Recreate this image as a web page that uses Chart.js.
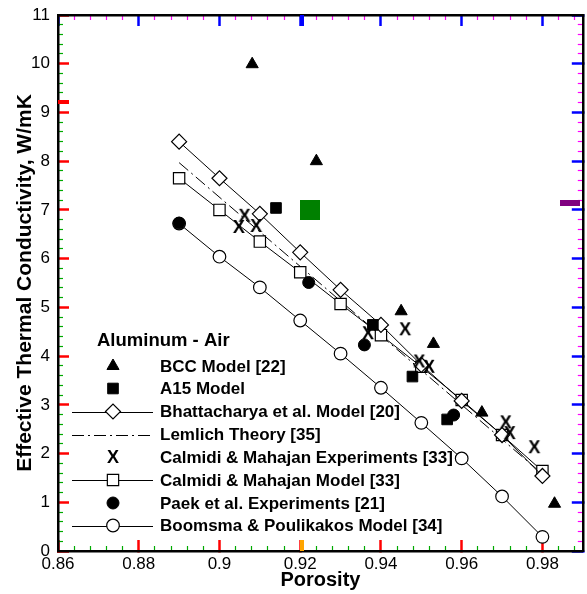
<!DOCTYPE html>
<html><head><meta charset="utf-8">
<script src="https://cdn.jsdelivr.net/npm/chart.js@4.4.1/dist/chart.umd.min.js"></script>
<style>html,body{margin:0;padding:0;background:#fff;overflow:hidden;width:587px;height:594px}canvas{display:block}</style>
</head><body>
<canvas id="c" width="592" height="594"></canvas>
<script>
const FONT = '"Liberation Sans", Arial, Helvetica, sans-serif';

// ---- tick labels ----
const xTickValues = [0.86, 0.88, 0.9, 0.92, 0.94, 0.96, 0.98];
const yTickValues = [0, 1, 2, 3, 4, 5, 6, 7, 8, 9, 10, 11];

// ---- model series (shared porosity grid) ----
const porosityGrid   = [0.89, 0.90, 0.91, 0.92, 0.93, 0.94, 0.95, 0.96, 0.97, 0.98];
const bhattacharyaK  = [8.40, 7.65, 6.92, 6.13, 5.36, 4.64, 3.82, 3.08, 2.38, 1.54];
const calmidiModelK  = [7.65, 7.00, 6.35, 5.72, 5.07, 4.43, 3.78, 3.10, 2.38, 1.64];
const boomsmaK       = [6.72, 6.04, 5.41, 4.73, 4.05, 3.35, 2.63, 1.90, 1.12, 0.29];

// ---- Lemlich theory (straight line) ----
const lemlichX = [0.89, 0.98];
const lemlichK = [7.97, 1.58];

// ---- point series ----
const bccX = [0.9081, 0.924, 0.945, 0.953, 0.965, 0.983];
const bccK = [9.99, 8.00, 4.92, 4.25, 2.84, 0.97];
const a15X = [0.914, 0.938, 0.9478, 0.9564];
const a15K = [7.04, 4.64, 3.58, 2.70];
const calExpX = [0.9048, 0.9062, 0.9091, 0.9368, 0.946, 0.9495, 0.9519, 0.9709, 0.9719, 0.978];
const calExpK = [6.65, 6.88, 6.67, 4.47, 4.55, 3.89, 3.78, 2.64, 2.42, 2.13];
const paekX = [0.89, 0.9221, 0.9359, 0.958];
const paekK = [6.73, 5.51, 4.23, 2.79];

// ---- legend ----
const legendTitle = 'Aluminum - Air';
const legendLabels = [
  'BCC Model [22]',
  'A15 Model',
  'Bhattacharya et al. Model [20]',
  'Lemlich Theory [35]',
  'Calmidi & Mahajan Experiments [33]',
  'Calmidi & Mahajan Model [33]',
  'Paek et al. Experiments [21]',
  'Boomsma & Poulikakos Model [34]'
];

const xMinorTicks = [];
for (let i = 1; i <= 32; i++) if (i % 5 !== 0) xMinorTicks.push(+(0.86 + i * 0.004).toFixed(3));
const yMinorTicks = [];
for (let i = 1; i < 55; i++) if (i % 5 !== 0) yMinorTicks.push(+(i * 0.2).toFixed(1));

const pts = (xs, ys) => xs.map((x, i) => ({x: x, y: ys[i]}));

function makeX() {
  const c = document.createElement('canvas');
  c.width = 14; c.height = 16;
  const g = c.getContext('2d');
  g.fillStyle = '#000';
  g.font = 'bold 18px ' + FONT;
  g.textAlign = 'center';
  g.textBaseline = 'alphabetic';
  g.fillText('X', 7, 8 + 0.716 * 18 / 2);
  return c;
}
const xGlyph = makeX();

const datasets = [
  {label: legendLabels[0], data: pts(bccX, bccK), showLine: false, pointStyle: 'triangle', pointRadius: 7,
   pointBackgroundColor: '#000', pointBorderColor: '#000', pointBorderWidth: 1, legendLine: false},
  {label: legendLabels[1], data: pts(a15X, a15K), showLine: false, pointStyle: 'rect', pointRadius: 7.5,
   pointBackgroundColor: '#000', pointBorderColor: '#000', pointBorderWidth: 1, legendLine: false},
  {label: legendLabels[6], data: pts(paekX, paekK), showLine: false, pointStyle: 'circle', pointRadius: 6,
   pointBackgroundColor: '#000', pointBorderColor: '#000', pointBorderWidth: 1, legendLine: false},
  {label: legendLabels[4], data: pts(calExpX, calExpK), showLine: false, pointStyle: xGlyph, pointRadius: 7,
   pointBackgroundColor: '#000', pointBorderColor: '#000', pointBorderWidth: 0, legendLine: false},
  {label: legendLabels[2], data: pts(porosityGrid, bhattacharyaK), showLine: true, borderColor: '#000', borderWidth: 1,
   pointStyle: 'rectRot', pointRadius: 7.5, pointBackgroundColor: '#fff', pointBorderColor: '#000', pointBorderWidth: 1.2, legendLine: true},
  {label: legendLabels[5], data: pts(porosityGrid, calmidiModelK), showLine: true, borderColor: '#000', borderWidth: 1,
   pointStyle: 'rect', pointRadius: 8, pointBackgroundColor: '#fff', pointBorderColor: '#000', pointBorderWidth: 1.2, legendLine: true},
  {label: legendLabels[7], data: pts(porosityGrid, boomsmaK), showLine: true, borderColor: '#000', borderWidth: 1,
   pointStyle: 'circle', pointRadius: 6.3, pointBackgroundColor: '#fff', pointBorderColor: '#000', pointBorderWidth: 1.2, legendLine: true},
  {label: legendLabels[3], data: pts(lemlichX, lemlichK), showLine: true, borderColor: '#000', borderWidth: 1,
   borderDash: [12, 4, 2, 4], pointRadius: 0, legendLine: true}
];

function drawMarker(ctx, ds, x, y) {
  if (!ds.pointRadius) return;
  ctx.save();
  ctx.fillStyle = ds.pointBackgroundColor;
  ctx.strokeStyle = ds.pointBorderColor;
  ctx.lineWidth = ds.pointBorderWidth;
  ctx.setLineDash([]);
  Chart.helpers.drawPoint(ctx, {pointStyle: ds.pointStyle, radius: ds.pointRadius, rotation: 0, borderWidth: ds.pointBorderWidth}, x, y);
  ctx.restore();
}

const legendPlugin = {
  id: 'insideLegend',
  afterDraw(chart) {
    const ctx = chart.ctx;
    const lx0 = 72, lx1 = 153, mx = 113, tx = 160;
    const rowY = [366, 388.5, 411.5, 434.5, 457, 480, 503, 525.5];
    ctx.save();
    ctx.fillStyle = '#000';
    ctx.strokeStyle = '#000';
    ctx.textBaseline = 'middle';
    ctx.textAlign = 'left';
    ctx.font = 'bold 18.5px ' + FONT;
    ctx.fillText(legendTitle, 97, 341);
    ctx.font = 'bold 17px ' + FONT;
    const order = [0, 1, 4, 7, 3, 5, 2, 6];
    order.forEach((di, r) => {
      const ds = chart.data.datasets[di];
      const yy = rowY[r];
      if (ds.legendLine) {
        ctx.save();
        ctx.lineWidth = 1;
        ctx.setLineDash(ds.borderDash || []);
        ctx.beginPath();
        ctx.moveTo(lx0, Math.round(yy) + 0.5); ctx.lineTo(lx1, Math.round(yy) + 0.5);
        ctx.stroke();
        ctx.restore();
      }
      drawMarker(ctx, ds, mx, yy);
      ctx.fillStyle = '#000';
      ctx.fillText(ds.label, tx, yy + 1);
    });
    // diagnostic rectangles
    ctx.fillStyle = 'red';   ctx.fillRect(58, 100, 11, 4);     // left edge band
    ctx.fillStyle = 'blue';  ctx.fillRect(300, 15, 4, 11);     // top edge band
    ctx.fillStyle = 'green'; ctx.fillRect(300, 200, 20, 20);   // middle
    ctx.fillStyle = 'orange';ctx.fillRect(300, 540, 4, 11);    // bottom edge band
    ctx.fillStyle = 'purple';ctx.fillRect(560, 200, 20, 6);    // right edge band
    ctx.restore();
  }
};

Chart.defaults.font.family = FONT;
Chart.defaults.color = '#000';

const setTicks = vals => s => { s.ticks = vals.map(v => ({value: v})); };
const fitH = h => s => { s.height = h; s.paddingLeft = 0; s.paddingRight = 0; s.paddingTop = 0; s.paddingBottom = 0; };
const fitW = w => s => { s.width = w; s.paddingLeft = 0; s.paddingRight = 0; s.paddingTop = 0; s.paddingBottom = 0; };
const majorGrid = c => ({display: true, drawOnChartArea: false, drawTicks: true, tickLength: -11, tickWidth: 2.5, tickColor: c});
const minorGrid = c => ({display: true, drawOnChartArea: false, drawTicks: true, tickLength: -5, tickWidth: 1.2, tickColor: c});
const border = () => ({display: true, color: '#000', width: 2.5});
const noLabel = () => ({display: false, autoSkip: false});

new Chart(document.getElementById('c'), {
  type: 'scatter',
  data: {datasets: datasets},
  options: {
    responsive: false,
    animation: false,
    events: [],
    layout: {padding: {top: 15, right: 3, bottom: 0, left: 0}},
    plugins: {legend: {display: false}, tooltip: {enabled: false}},
    scales: {
      x: {
        type: 'linear', position: 'bottom', weight: 1, min: 0.86, max: 0.99,
        afterBuildTicks: setTicks(xTickValues), afterFit: fitH(43),
        grid: majorGrid('#ff0000'), border: border(),
        ticks: {font: {size: 17}, color: '#000', padding: 14, maxRotation: 0, autoSkip: false,
                callback: v => String(+(+v).toFixed(2))},
        title: {display: true, text: 'Porosity', color: '#000', font: {size: 20, weight: 'bold'}, padding: {top: 0, bottom: 2}}
      },
      xMinor: {
        type: 'linear', position: 'bottom', weight: 0, min: 0.86, max: 0.99,
        afterBuildTicks: setTicks(xMinorTicks), afterFit: fitH(0),
        grid: minorGrid('#00aa00'), border: {display: false}, ticks: noLabel()
      },
      xTop: {
        type: 'linear', position: 'top', weight: 0, min: 0.86, max: 0.99,
        afterBuildTicks: setTicks(xTickValues), afterFit: fitH(0),
        grid: majorGrid('#0000ff'), border: border(), ticks: noLabel()
      },
      xTopMinor: {
        type: 'linear', position: 'top', weight: 1, min: 0.86, max: 0.99,
        afterBuildTicks: setTicks(xMinorTicks), afterFit: fitH(0),
        grid: minorGrid('#ff00ff'), border: {display: false}, ticks: noLabel()
      },
      y: {
        type: 'linear', position: 'left', weight: 1, min: 0, max: 11,
        afterBuildTicks: setTicks(yTickValues), afterFit: fitW(58),
        grid: majorGrid('#ff0000'), border: border(),
        ticks: {font: {size: 17}, color: '#000', padding: 19, autoSkip: false,
                callback: v => String(+(+v).toFixed(0))},
        title: {display: true, text: 'Effective Thermal Conductivity, W/mK', color: '#000',
                font: {size: 21, weight: 'bold'}, padding: {top: 13, bottom: 0}}
      },
      yMinor: {
        type: 'linear', position: 'left', weight: 0, min: 0, max: 11,
        afterBuildTicks: setTicks(yMinorTicks), afterFit: fitW(0),
        grid: minorGrid('#00aa00'), border: {display: false}, ticks: noLabel()
      },
      yRight: {
        type: 'linear', position: 'right', weight: 0, min: 0, max: 11,
        afterBuildTicks: setTicks(yTickValues), afterFit: fitW(0),
        grid: majorGrid('#0000ff'), border: border(), ticks: noLabel()
      },
      yRightMinor: {
        type: 'linear', position: 'right', weight: 1, min: 0, max: 11,
        afterBuildTicks: setTicks(yMinorTicks), afterFit: fitW(0),
        grid: minorGrid('#ff00ff'), border: {display: false}, ticks: noLabel()
      }
    }
  },
  plugins: [legendPlugin]
});
</script>
</body></html>
